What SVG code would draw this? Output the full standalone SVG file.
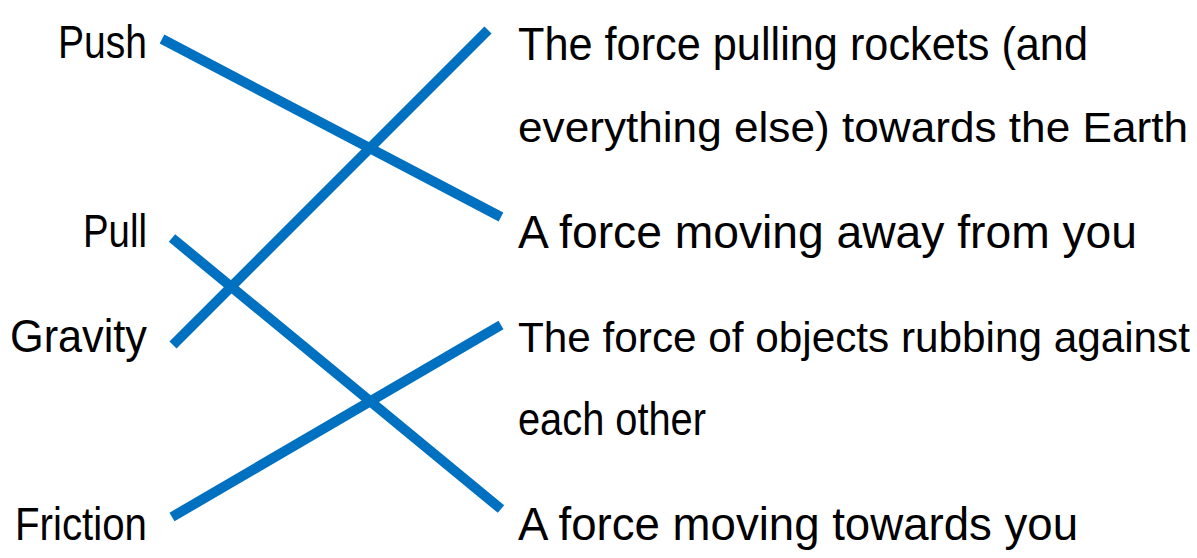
<svg xmlns="http://www.w3.org/2000/svg" width="1197" height="558" viewBox="0 0 1197 558">
<style>
text{font-family:"Liberation Sans",Arial,sans-serif;font-size:46px;fill:#000;}
.l{text-anchor:end;}
.s{font-size:42px;}
.c{stroke:#0070C0;stroke-width:10;fill:none;stroke-linecap:butt;}
</style>
<rect width="1197" height="558" fill="#fff"/>
<g id="connectors">
<line class="c" x1="162" y1="39" x2="501" y2="217"/>
<line class="c" x1="173" y1="345" x2="488" y2="30"/>
<line class="c" x1="172" y1="238" x2="501" y2="509"/>
<line class="c" x1="172" y1="517" x2="501" y2="325"/>
</g>
<g id="push"><text class="l" x="147" y="58" textLength="89" lengthAdjust="spacingAndGlyphs">Push</text></g>
<g id="pull"><text class="l" x="147" y="247" textLength="64" lengthAdjust="spacingAndGlyphs">Pull</text></g>
<g id="gravity"><text class="l" x="147" y="352" textLength="137" lengthAdjust="spacingAndGlyphs">Gravity</text></g>
<g id="friction"><text class="l" x="147" y="540" textLength="132" lengthAdjust="spacingAndGlyphs">Friction</text></g>
<g id="def-gravity">
<text x="518" y="60" textLength="570" lengthAdjust="spacingAndGlyphs">The force pulling rockets (and</text>
<text class="s" x="518" y="142" textLength="670" lengthAdjust="spacingAndGlyphs">everything else) towards the Earth</text>
</g>
<g id="def-push"><text x="518" y="248" textLength="619" lengthAdjust="spacingAndGlyphs">A force moving away from you</text></g>
<g id="def-friction">
<text class="s" x="518" y="352" textLength="672" lengthAdjust="spacingAndGlyphs">The force of objects rubbing against</text>
<text x="518" y="435" textLength="188" lengthAdjust="spacingAndGlyphs">each other</text>
</g>
<g id="def-pull"><text x="518" y="540" textLength="560" lengthAdjust="spacingAndGlyphs">A force moving towards you</text></g>
</svg>
